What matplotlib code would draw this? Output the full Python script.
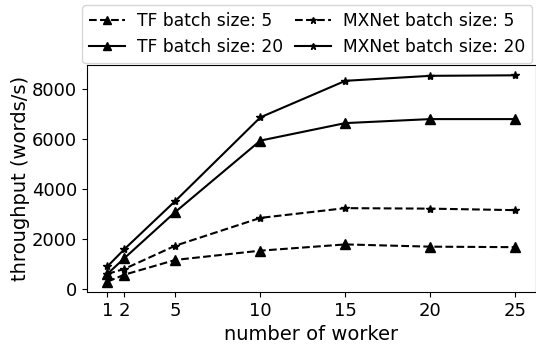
import matplotlib
matplotlib.use("Agg")
import matplotlib.pyplot as plt

workers = [1, 2, 5, 10, 15, 20, 25]
tf_bs5 = [290, 570, 1160, 1530, 1780, 1690, 1670]
tf_bs20 = [600, 1230, 3080, 5930, 6630, 6790, 6790]
mx_bs5 = [600, 800, 1730, 2840, 3230, 3210, 3150]
mx_bs20 = [900, 1590, 3520, 6860, 8320, 8520, 8540]
labels = ["TF batch size: 5", "TF batch size: 20", "MXNet batch size: 5", "MXNet batch size: 20"]

fig = plt.figure(figsize=(5.36, 3.45), dpi=100)
ax = fig.add_axes([87/536, 53/345, 448.7/536, 227/345])

ax.plot(workers, tf_bs5, 'k--', marker='^', markersize=7, lw=1.5, label=labels[0])
ax.plot(workers, tf_bs20, 'k-', marker='^', markersize=7, lw=1.5, label=labels[1])
ax.plot(workers, mx_bs5, 'k--', marker='*', markersize=6, lw=1.5, label=labels[2])
ax.plot(workers, mx_bs20, 'k-', marker='*', markersize=6, lw=1.5, label=labels[3])

ax.set_xticks(workers)
ax.set_yticks([0, 2000, 4000, 6000, 8000])
ax.tick_params(labelsize=13)
ax.set_xlabel("number of worker", fontsize=14)
ax.set_ylabel("throughput (words/s)", fontsize=14, labelpad=1.5)

ax.legend(loc='lower center', bbox_to_anchor=(0.491, 1.0), ncol=2, fontsize=12.3,
          columnspacing=0.7, handlelength=2.1, handletextpad=0.7, borderaxespad=0.1,
          markerscale=0.75)

fig.savefig("out.png", dpi=100)
